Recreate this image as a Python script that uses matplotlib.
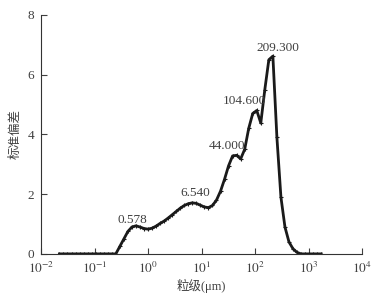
import numpy as np
import matplotlib
matplotlib.use("Agg")
import matplotlib.pyplot as plt
from matplotlib.ticker import NullLocator

plt.rcParams['font.family'] = ['Liberation Serif', 'Noto Sans CJK SC']
plt.rcParams['mathtext.fontset'] = 'stix'

# grain size classes (um) and standard deviation
size = [0.0221, 0.0263, 0.03125, 0.0372, 0.0442, 0.0526, 0.0625, 0.0743, 0.0884,
        0.1051, 0.125, 0.1487, 0.1768, 0.2102, 0.25, 0.2973, 0.3536, 0.4204,
        0.5, 0.5946, 0.7071, 0.8409, 1.0, 1.189, 1.414, 1.682, 2.0, 2.378,
        2.828, 3.364, 4.0, 4.757, 5.657, 6.727, 8.0, 9.514, 11.31, 13.45,
        16.0, 19.03, 22.63, 26.91, 32.0, 38.05, 45.25, 53.82, 64.0, 76.11,
        90.51, 107.6, 128.0, 152.2, 181.0, 215.3, 256.0, 304.4, 362.0, 430.5,
        512.0, 608.9, 724.1, 861.1, 1024, 1218, 1448, 1722]
std = [0, 0, 0, 0, 0, 0, 0, 0, 0,
       0, 0, 0, 0, 0, 0.0, 0.25, 0.5, 0.75,
       0.9, 0.94, 0.9, 0.85, 0.83, 0.86, 0.93, 1.02, 1.1, 1.2,
       1.31, 1.42, 1.53, 1.62, 1.68, 1.71, 1.69, 1.63, 1.57, 1.55,
       1.62, 1.8, 2.1, 2.5, 2.95, 3.28, 3.3, 3.18, 3.5, 4.2,
       4.7, 4.8, 4.38, 5.5, 6.5, 6.62, 3.9, 1.9, 0.9, 0.4,
       0.17, 0.05, 0, 0, 0, 0, 0, 0]

x_ticks = [1e-2, 1e-1, 1e0, 1e1, 1e2, 1e3, 1e4]
x_ticklabels = ['$10^{-2}$', '$10^{-1}$', '$10^{0}$', '$10^{1}$',
                '$10^{2}$', '$10^{3}$', '$10^{4}$']

peak_labels = ['0.578', '6.540', '44.000', '104.600', '209.300']
label_x = [0.50, 7.56, 30.0, 62.3, 269]
label_y = [1.14, 2.04, 3.61, 5.12, 6.89]

fig = plt.figure(figsize=(3.76, 2.98), dpi=100)
ax = fig.add_axes([0.109, 0.148, 0.854, 0.802])

ax.plot(size, std, color='#1a1a1a', lw=2.0, marker='+', ms=3, mew=0.8)

for t, x, y in zip(peak_labels, label_x, label_y):
    ax.text(x, y, t, ha='center', va='center', fontsize=9.5, color='#404040')

ax.set_xscale('log')
ax.set_xlim(1e-2, 1e4)
ax.set_ylim(0, 8)
ax.set_xticks(x_ticks)
ax.set_xticklabels(x_ticklabels)
ax.xaxis.set_minor_locator(NullLocator())
ax.set_yticks([0, 2, 4, 6, 8])

for s in ['top', 'right']:
    ax.spines[s].set_visible(False)
for s in ['left', 'bottom']:
    ax.spines[s].set_color('#333333')
    ax.spines[s].set_linewidth(0.8)
ax.tick_params(direction='in', length=4, width=0.8, labelsize=9.5,
               colors='#404040', pad=5)

ax.set_xlabel('粒级(μm)', fontsize=9, color='#404040', labelpad=2)
ax.set_ylabel('标准偏差', fontsize=9, color='#404040', labelpad=4)

fig.savefig('out.png', dpi=100)
